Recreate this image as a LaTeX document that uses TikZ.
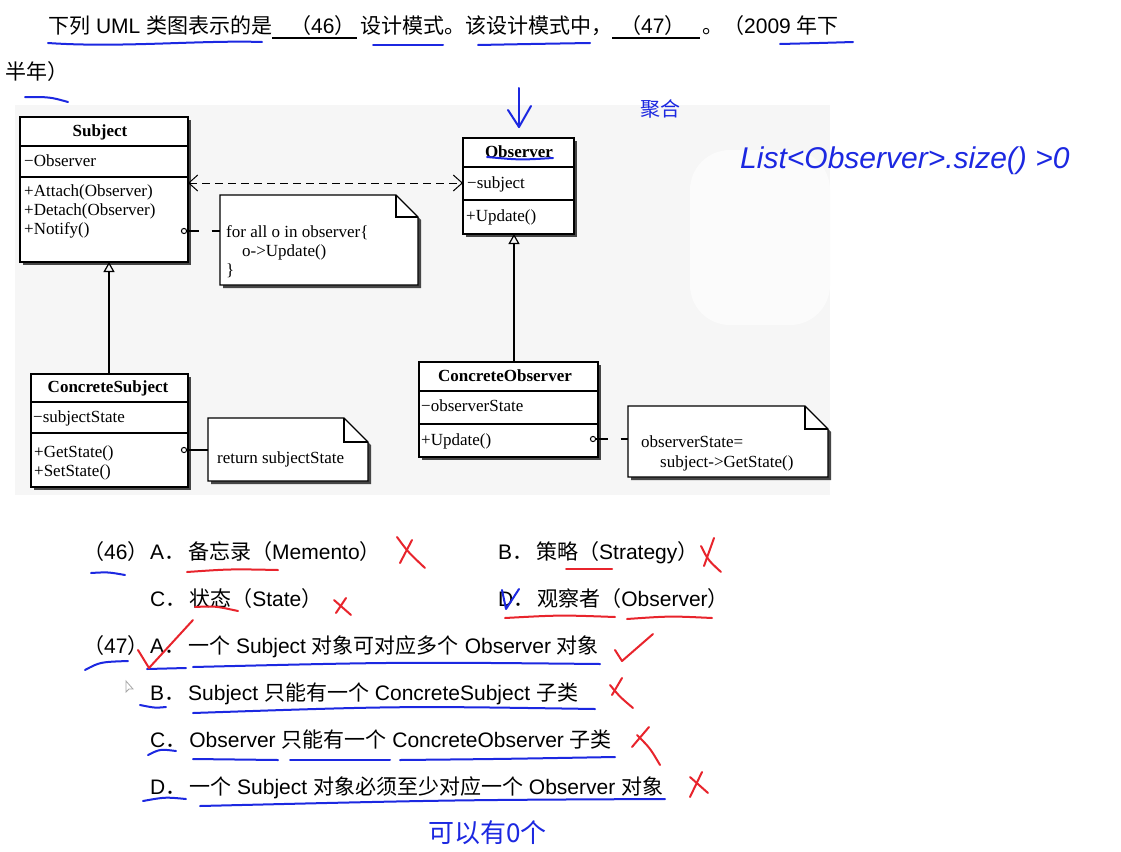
\documentclass[tikz,border=0pt]{standalone}
\usepackage{fontspec}
\setmainfont{Liberation Sans}
\newfontfamily\cjk{Noto Sans CJK SC}
\newfontfamily\umlf{Liberation Serif}
\usetikzlibrary{arrows.meta}
\newcommand\zh[1]{{\cjk #1}}
\definecolor{penblue}{RGB}{28,40,225}
\definecolor{penred}{RGB}{232,36,44}
\definecolor{umlbg}{RGB}{246,246,246}
\definecolor{shadowc}{RGB}{70,70,70}
\tikzset{
  umlline/.style={line width=1.3pt, draw=black},
  umltext/.style={font=\umlf\fontsize{17}{19}\selectfont, inner sep=0, anchor=base west},
  umltitle/.style={font=\umlf\bfseries\fontsize{17}{19}\selectfont, inner sep=0, anchor=base},
  qt/.style={font=\fontsize{21}{25}\selectfont, inner sep=0, anchor=base west},
  pen/.style={line width=2pt, line cap=round, line join=round},
  bpen/.style={pen, draw=penblue},
  rpen/.style={pen, draw=penred},
  notelink/.style={umlline, dash pattern=on 12pt off 13pt},
  hand/.style={text=penblue, inner sep=0, anchor=base west},
}
% class box: name, x1, y1, x2, y2, divider1, divider2
\newcommand\classbox[7]{%
  \begin{scope}[shift={(3,3)}]\fill[shadowc] (#2,#3) rectangle (#4,#5);\end{scope}
  \node[draw, umlline, fill=white, inner sep=0, outer sep=0, anchor=north west,
        minimum width={#4-#2}, minimum height={#5-#3}] (#1) at (#2,#3) {};
  \draw[umlline] (#2,#6) -- (#4,#6);
  \draw[umlline] (#2,#7) -- (#4,#7);
}
% note: name, x1, y1, x2, y2, fold
\newcommand\notebox[6]{%
  \begin{scope}[shift={(3,3)}]\fill[shadowc] (#2,#3) -- (#4-#6,#3) -- (#4,#3+#6) -- (#4,#5) -- (#2,#5) -- cycle;\end{scope}
  \draw[umlline, fill=white] (#2,#3) -- (#4-#6,#3) -- (#4,#3+#6) -- (#4,#5) -- (#2,#5) -- cycle;
  \draw[umlline] (#4-#6,#3) -- (#4-#6,#3+#6) -- (#4,#3+#6);
  \node[inner sep=0, outer sep=0, anchor=north west, minimum width={#4-#2}, minimum height={#5-#3}] (#1) at (#2,#3) {};
}
\begin{document}
\begin{tikzpicture}[x=1pt, y=-1pt]
\useasboundingbox (0,0) rectangle (1121,851);
\fill[white] (0,0) rectangle (1121,851);
% UML area background
\fill[umlbg] (15,105) rectangle (830,495);
\fill[white!60!umlbg, rounded corners=40pt] (690,150) rectangle (830,325);

% ---------------- question text ----------------
\node[qt] (t1) at (48,34) {\zh{下列} UML \zh{类图表示的是}};
\draw[line width=1.2pt] (272,38) -- (357,38);
\node[qt] (b46) at (290,34) {\zh{（}46\zh{）}};
\node[qt] (t2) at (360,34) {\zh{设计模式。该设计模式中，}};
\draw[line width=1.2pt] (612,38) -- (700,38);
\node[qt] (b47) at (620,34) {\zh{（}47\zh{）}};
\node[qt] (t3) at (702,34) {\zh{。（}2009\hspace{6pt}\zh{年下}};
\node[qt] (t4) at (5,79) {\zh{半年）}};

\node[qt] (q46) at (83,559) {\zh{（}46\zh{）}};
\node[qt] (o46a) at (150,559) {A\zh{．}\hspace{3pt}\zh{备忘录（}Memento\zh{）}};
\node[qt] (o46b) at (498,559) {B\zh{．}\hspace{3pt}\zh{策略（}Strategy\zh{）}};
\node[qt] (o46c) at (150,606) {C\zh{．}\hspace{3pt}\zh{状态（}State\zh{）}};
\node[qt] (o46d) at (498,606) {D\zh{．}\hspace{3pt}\zh{观察者（}Observer\zh{）}};
\node[qt] (q47) at (83,653) {\zh{（}47\zh{）}};
\node[qt] (o47a) at (150,653) {A\zh{．}\hspace{3pt}\zh{一个} Subject \zh{对象可对应多个} Observer \zh{对象}};
\node[qt] (o47b) at (150,700) {B\zh{．}\hspace{3pt}Subject \zh{只能有一个} ConcreteSubject \zh{子类}};
\node[qt] (o47c) at (150,747) {C\zh{．}\hspace{3pt}Observer \zh{只能有一个} ConcreteObserver \zh{子类}};
\node[qt] (o47d) at (150,794) {D\zh{．}\hspace{3pt}\zh{一个} Subject \zh{对象必须至少对应一个} Observer \zh{对象}};

% ---------------- UML classes ----------------
\classbox{subject}{20}{117}{188}{262}{146}{177}
\node[umltitle] at (100,136) {Subject};
\node[umltext] at (24,166) {−Observer};
\node[umltext] at (24,196) {+Attach(Observer)};
\node[umltext] at (24,215) {+Detach(Observer)};
\node[umltext] at (24,234) {+Notify()};

\classbox{observer}{463}{138}{574}{234}{167}{200}
\node[umltitle] at (519,157) {Observer};
\node[umltext] at (467,188) {−subject};
\node[umltext] at (466,221) {+Update()};

\classbox{csubj}{31}{374}{188}{487}{402}{433}
\node[umltitle] at (108,392) {ConcreteSubject};
\node[umltext] at (33,422) {−subjectState};
\node[umltext] at (34,457) {+GetState()};
\node[umltext] at (34,476) {+SetState()};

\classbox{cobs}{419}{362}{598}{457}{391}{424}
\node[umltitle] at (505,381) {ConcreteObserver};
\node[umltext] at (421,411) {−observerState};
\node[umltext] at (421,445) {+Update()};

% ---------------- notes ----------------
\notebox{n1}{220}{195}{418}{285}{22}
\node[umltext] at (226,237) {for all o in observer\{};
\node[umltext] at (242,256) {o->Update()};
\node[umltext] at (226,275) {\}};

\notebox{n2}{208}{418}{368}{481}{24}
\node[umltext] at (217,463) {return subjectState};

\notebox{n3}{628}{406}{828}{477}{23}
\node[umltext] at (641,447) {observerState=};
\node[umltext] at (660,467) {subject->GetState()};

% ---------------- connectors ----------------
\draw[umlline, line width=1pt, dash pattern=on 8pt off 5pt,
      {Straight Barb[length=9pt,width=16pt]}-{Straight Barb[length=9pt,width=16pt]}]
  ([yshift=6.5pt]subject.east) -- ([yshift=3pt]observer.west);

\coordinate (g1) at ([xshift=5pt]subject.south);
\draw[umlline, line width=1.2pt, -{Triangle[open,length=10pt,width=11pt]}] (g1 |- csubj.north) -- (g1);
\coordinate (g2) at ([xshift=-4.5pt]observer.south);
\draw[umlline, line width=1.2pt, -{Triangle[open,length=10pt,width=11pt]}] (g2 |- cobs.north) -- (g2);

\coordinate (k1) at (184,231);
\draw[umlline, line width=1pt] (k1) circle (2.6);
\draw[notelink] ([xshift=2.6pt]k1) -- (n1.west |- k1);
\coordinate (k2) at (184,450);
\draw[umlline, line width=1pt] (k2) circle (2.6);
\draw[umlline] ([xshift=2.6pt]k2) -- (200,450);
\draw[umlline] (200,450) -- (n2.west |- k2);
\coordinate (k3) at (593,439);
\draw[umlline, line width=1pt] (k3) circle (2.6);
\draw[notelink] ([xshift=2.6pt]k3) -- (n3.west |- k3);

% ---------------- handwriting (blue) ----------------
\draw[bpen] (48,43) .. controls (120,48) and (200,40) .. (262,42);
\draw[bpen] (373,45) -- (443,45);
\draw[bpen] (478,45) .. controls (530,44) .. (590,43);
\draw[bpen] (780,44) .. controls (820,43) .. (853,42);
\draw[bpen] (25,97) .. controls (50,97) .. (68,102);
\draw[bpen] (487,157) .. controls (520,160) .. (553,158);
\draw[bpen] (519,88) -- (519,127);
\draw[bpen] (508,110) -- (519,127) -- (531,106);
\node[hand, font=\cjk\fontsize{20}{22}\selectfont] (jh) at (640,116) {聚合};
\node[hand, font=\itshape\fontsize{30}{32}\selectfont] (ls) at (740,168) {List<Observer>.size() >0};

\draw[bpen] (91,573) .. controls (108,572) .. (125,575);
\draw[bpen] (502,590) -- (506,609) -- (519,589);
\draw[bpen] (85,670) .. controls (100,662) .. (128,661);
\draw[bpen] (147,669) -- (186,668);
\draw[bpen] (193,667) .. controls (400,662) .. (600,664);
\draw[bpen] (140,705) .. controls (155,708) .. (166,707);
\draw[bpen] (193,713) .. controls (400,706) .. (595,709);
\draw[bpen] (148,755) .. controls (160,749) .. (176,751);
\draw[bpen] (193,759) -- (278,760);
\draw[bpen] (290,760) -- (390,760);
\draw[bpen] (400,760) .. controls (500,759) .. (615,757);
\draw[bpen] (143,801) .. controls (165,797) .. (186,799);
\draw[bpen] (200,806) .. controls (450,800) .. (665,799);
\node[hand, font=\cjk\fontsize{26}{28}\selectfont] (ky) at (428,842) {可以有0个};

% ---------------- marks (red) ----------------
\draw[rpen] (187,572) .. controls (230,569) .. (278,570);
\draw[rpen] (397,537) .. controls (408,552) .. (425,568);
\draw[rpen] (412,540) -- (400,563);
\draw[rpen] (566,569) -- (612,569);
\draw[rpen] (701,546) .. controls (708,560) .. (721,572);
\draw[rpen] (714,538) -- (704,566);
\draw[rpen] (195,607) .. controls (215,606) .. (238,611);
\draw[rpen] (334,600) -- (351,615);
\draw[rpen] (346,598) -- (336,613);
\draw[rpen] (505,618) .. controls (560,615) .. (615,617);
\draw[rpen] (627,619) .. controls (670,616) .. (712,618);
\draw[rpen] (138,650) -- (149,668) -- (193,620);
\draw[rpen] (615,650) -- (622,661) -- (653,634);
\draw[rpen] (610,685) .. controls (620,697) .. (633,708);
\draw[rpen] (622,678) -- (612,695);
\draw[rpen] (632,747) -- (649,727);
\draw[rpen] (637,735) .. controls (650,748) .. (660,765);
\draw[rpen] (690,777) -- (708,793);
\draw[rpen] (702,772) -- (690,797);

% mouse pointer
\draw[gray!70, line width=0.8pt, fill=white] (126,681) -- (126,692) -- (129,689) -- (133,689) -- cycle;
\end{tikzpicture}
\end{document}
